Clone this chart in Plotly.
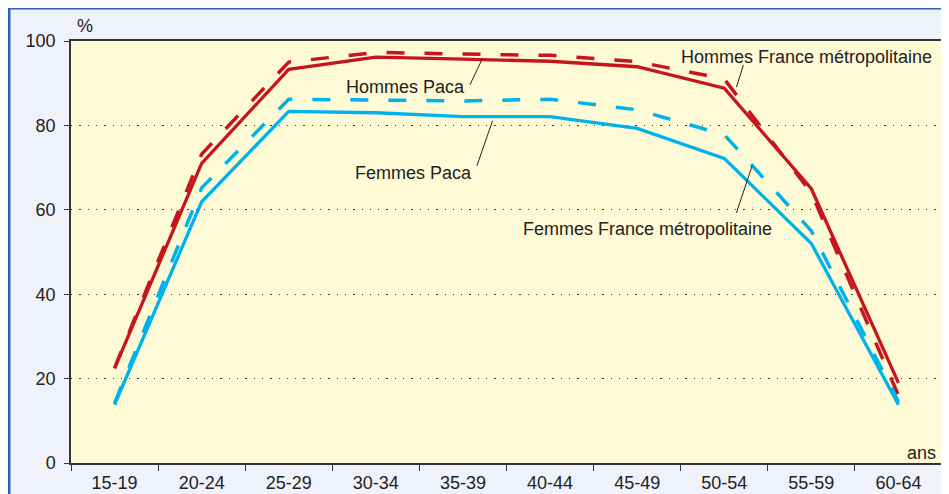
import plotly.graph_objects as go

categories = ["15-19", "20-24", "25-29", "30-34", "35-39", "40-44", "45-49", "50-54", "55-59", "60-64"]
hommes_paca = [22.4, 71.0, 93.3, 96.2, 95.7, 95.2, 93.9, 88.8, 65.0, 19.0]
hommes_france = [22.5, 73.2, 95.0, 97.3, 96.9, 96.6, 95.1, 91.0, 64.0, 16.0]
femmes_paca = [13.8, 61.9, 83.3, 83.0, 82.1, 82.1, 79.3, 72.2, 52.0, 13.8]
femmes_france = [14.2, 65.2, 86.2, 86.0, 85.8, 86.2, 83.7, 77.8, 55.0, 14.5]
y_ticks = [0, 20, 40, 60, 80, 100]

RED = "#C4161C"
BLUE = "#00B2EC"
FONT = "Liberation Sans, Arial, Helvetica, sans-serif"
FS = 18

fig = go.Figure()
fig.add_trace(go.Scatter(x=categories, y=hommes_france, mode="lines",
                         line=dict(color=RED, width=3.5, dash="18px,20px"), name="Hommes France métropolitaine"))
fig.add_trace(go.Scatter(x=categories, y=femmes_france, mode="lines",
                         line=dict(color=BLUE, width=3.5, dash="18px,20px"), name="Femmes France métropolitaine"))
fig.add_trace(go.Scatter(x=categories, y=femmes_paca, mode="lines",
                         line=dict(color=BLUE, width=3.3), name="Femmes Paca"))
fig.add_trace(go.Scatter(x=categories, y=hommes_paca, mode="lines",
                         line=dict(color=RED, width=3.3), name="Hommes Paca"))

# leader lines for labels (data coordinates, category index on x)
leaders = [
    (7.22, 94.3, 7.14, 89.1),
    (4.08, 89.6, 4.22, 95.7),
    (4.16, 70.4, 4.34, 81.1),
    (7.14, 59.3, 7.32, 70.4),
]
shapes = []
for x0, y0, x1, y1 in leaders:
    shapes.append(dict(type="line", xref="x", yref="y", x0=x0, y0=y0, x1=x1, y1=y1,
                       line=dict(color="#222222", width=1)))

# page body has an 8px margin; figure sized to fill the rest of the window
W, H = 941, 486
L, R, T, B = 63, 7, 33, 31
pw, ph = W - L - R, H - T - B
def px(x):
    return (x - L) / pw
def py(y):
    return 1 - (y - T) / ph

shapes += [
    dict(type="line", xref="paper", yref="paper", x0=px(0), x1=px(W), y0=py(0.6), y1=py(0.6),
         line=dict(color="#2A62B4", width=2), layer="below"),
    dict(type="line", xref="paper", yref="paper", x0=px(1.2), x1=px(1.2), y0=py(0), y1=py(H),
         line=dict(color="#2A62B4", width=2.5), layer="below"),
]

annotations = [
    dict(text="Hommes France métropolitaine", x=7.95, y=96.2),
    dict(text="Hommes Paca", x=3.34, y=89.1),
    dict(text="Femmes Paca", x=3.43, y=68.8),
    dict(text="Femmes France métropolitaine", x=6.12, y=55.5),
]
annots = []
for a in annotations:
    annots.append(dict(text=a["text"], x=a["x"], y=a["y"], xref="x", yref="y", showarrow=False,
                       font=dict(family=FONT, size=FS, color="#222222")))
annots.append(dict(text="ans", x=1, y=0, xref="paper", yref="paper", xanchor="right", yanchor="bottom",
                   xshift=-4, yshift=-2, showarrow=False, font=dict(family=FONT, size=FS, color="#222222")))
annots.append(dict(text="%", x=0, y=1, xref="paper", yref="paper", xanchor="center", yanchor="bottom",
                   xshift=14, yshift=3, showarrow=False, font=dict(family=FONT, size=FS, color="#222222")))

fig.update_layout(
    width=W, height=H,
    margin=dict(l=L, r=R, t=T, b=B, autoexpand=False),
    paper_bgcolor="#EFF2FA",
    plot_bgcolor="#FFFAD6",
    showlegend=False,
    shapes=shapes,
    annotations=annots,
    font=dict(family=FONT, size=FS, color="#222222"),
)
fig.update_xaxes(
    type="category", categoryorder="array", categoryarray=categories,
    range=[-0.5, len(categories) - 0.5],
    tickson="boundaries", ticks="outside", ticklen=6, tickcolor="#333333", tickwidth=1,
    showline=True, linecolor="#333333", linewidth=1.5, mirror=True,
    showgrid=False, ticklabelstandoff=3, automargin=False,
    tickfont=dict(family=FONT, size=FS, color="#222222"),
)
fig.update_yaxes(
    range=[0, 100], tickvals=y_ticks, ticktext=[str(v) for v in y_ticks],
    ticks="outside", ticklen=5, tickcolor="#333333", tickwidth=1,
    showline=True, linecolor="#333333", linewidth=1.5, mirror=True,
    showgrid=True, gridcolor="#333333", gridwidth=1.3, griddash="1.3px,7px",
    zeroline=False, ticklabelstandoff=5, automargin=False,
    tickfont=dict(family=FONT, size=FS, color="#222222"),
)

fig.write_html("out.html")
